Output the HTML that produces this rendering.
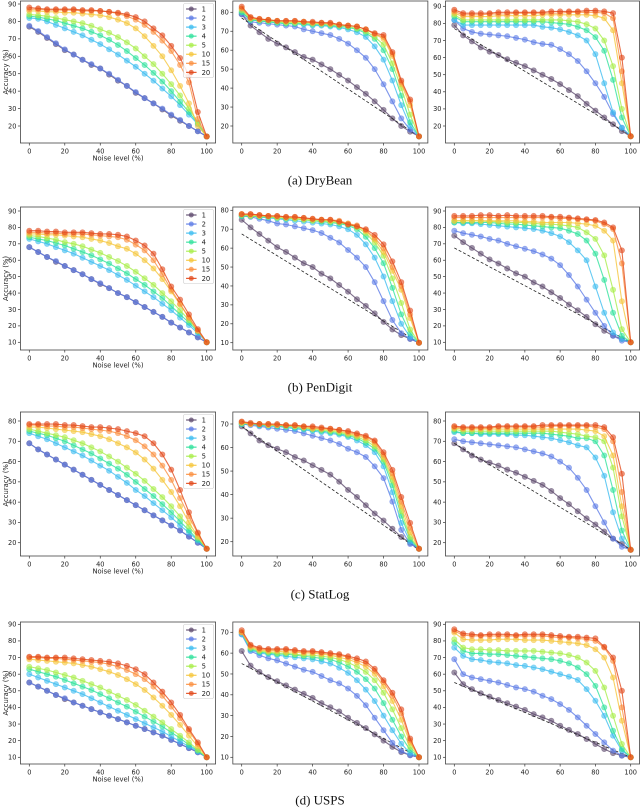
<!DOCTYPE html>
<html><head><meta charset="utf-8"><style>
html,body{margin:0;padding:0;background:#fff;}
svg{display:block;font-family:"DejaVu Sans","Liberation Sans",sans-serif;}
.cap{font-family:"Liberation Serif",serif;font-size:13px;fill:#111;}
</style></head><body>
<svg id="fig" width="640" height="808" viewBox="0 0 640 808" xmlns="http://www.w3.org/2000/svg"></svg>
<script>
const noiseLevels = [0,5,10,15,20,25,30,35,40,45,50,55,60,65,70,75,80,85,90,95,100];
const seriesNames = ['1','2','3','4','5','10','15','20'];
const seriesColors = ['#5d4a6d','#5c7be6','#3dbdf0','#30e29c','#a8ee4a','#f5c63b','#fb8f3f','#e24a1c'];

const drybeanA = [
[77,74,70.5,67,63.5,61,58,55,53,49.5,46,43,39,36,33,29.5,26,23,20,17,14],
[77.5,74.5,71,67.5,64,61,58,55.5,53,50,46.5,43,39.5,36,33,30,26.5,23.5,20,17,14],
[82,81.5,80,78,76,74,72,69.5,67,64,61,57.5,54,50,46,41.5,37,32,26.5,21,14],
[83,82.5,81.5,80.5,79,77.5,76,74,72,69.5,66.5,63,59,55,50.5,45.5,40,34,28,21.5,14],
[84,83.5,83,82,81,80,79,77.5,75.5,73.5,71,68,64.5,60,55.5,50,44,37.5,30,22,14],
[86,86,85.5,85.5,85,85,84.5,84,83.5,82.5,81,79,76,71.5,66,60,52,43,33,20,14],
[87,87,86.5,86.5,86.5,86.5,86,86,86,85.5,84.5,83,81,78,74,69,63,55,45,24,14],
[88,87.5,87,87,87,87,86.5,86.5,86,85.5,85,84,82.5,80,76,72,66,59,49,28,14]];
const drybeanB = [
[79,73,69.5,66,63.5,61.5,59,56.5,55,52.5,50,47,44,40.5,37,33,28.5,24,20,17,14.5],
[79,75,74.5,74,73.5,73,72.5,71,70,69,68,66,63.5,60,56,50,42,33,24,18,14.5],
[80,76,75.5,75,74.5,74,74,73.5,73,73,72.5,72,71,69.5,67,62,55,44,31,20,14.5],
[80,76,75.5,75,74.5,74,74,74,73.5,73.5,73,72.5,72,71,69,66,60,50,36,22,14.5],
[81,76.5,76,75.5,75,74.5,74.5,74.5,74,74,73.5,73,72.5,71.5,70,67,63,53,40,26,14.5],
[82,77,76,76,75.5,75,75,75,74.5,74,74,73.5,73,72.5,71,68.5,66,57,42,31,14.5],
[82,77,76.5,76,75.5,75.5,75.5,75,74.5,74.5,74,73.5,73,72.5,71,68.5,67,58,43,33,14.5],
[83,77.5,76.5,76,75.5,75.5,75.5,75,75,74.5,74.5,73.5,73,72.5,71,69,68,59,44,34,14.5]];
const drybeanC = [
[79,73,69.5,66,63.5,61.5,59,57,55,52.5,50,47.5,44.5,41,37.5,33,29,25,21,17,14],
[82,77,75,74,73.5,73,72.5,71.5,70.5,69,68,67.5,65,62,58,52,45,37,27,19,14],
[82,79,79,79,79,79,79,79,79,79,78,77.5,76.5,75,73,70,62,45,28,19,14],
[84,81,81,81,81,81,81,81,81,81,81,80.5,80,79.5,78,76,72,64,47,25,14],
[85,82,82,82,82,82,82,82,82,82,82,82,82,81.5,81,79.5,77,70,55,30,14],
[86,84,84,84,84,84.5,84.5,84.5,84.5,84.5,85,85,85,85,85,85,84.5,83,76,45,14],
[87,85,85,85,85.5,85.5,85.5,86,86,86,86,86,86,86.5,86.5,86.5,86.5,86,83,52,14],
[88,86,86,86,86,86.5,86.5,86.5,86.5,86.5,86.5,87,87,87,87,87.5,87.5,87,86,60,14]];

const pendigitA = [
[68,65,62,59,56.5,54,51.5,48.5,45.5,43,40,37.5,34.5,31.5,28.5,25.5,22,19,16,13,10],
[68,65,62,59.5,56.5,54,51.5,48.5,46,43,40,37.5,34.5,31.5,28.5,25.5,22,19,16,13,10],
[73,71.5,70,68,66,64,61.5,59,56.5,54,51,48,44.5,41,37.5,33.5,29.5,25,20.5,15.5,10],
[74,73,72,70.5,69,67,65,63,60.5,58,55,52,48.5,45,41,37,32,27,22,16.5,10],
[75,74.5,73.5,72.5,71,70,68.5,66.5,64.5,62,59.5,56.5,53,49,45,40,35,29.5,23.5,17,10],
[76,76,75.5,75.5,75,74.5,74,73,72,70.5,68.5,67,64,60,55,48.5,41,33,25,17,10],
[77,77,76.5,76.5,76,76,76,75.5,75,74.5,74,72.5,69.5,66,60,51.5,42,33.5,25,17,10],
[78,78,77.5,77.5,77,77,77,76.5,76,76,75.5,74.5,72,69,64,54.5,44,36,27,18,10]];
const pendigitB = [
[75,71,67.5,64,60.5,58,55,52,50,46.5,44,40.5,37,33,29.5,25.5,21,17,14,12,10],
[77,76.5,75.5,74.5,73,72.5,71.5,70.5,69.5,68,65.5,63,59,55,50,42,32,22,15,12,10],
[77,77,76.5,76,75.5,75,74.5,74,73.5,73,72.5,71.5,70,67,62,55,45,32,20,13,10],
[77,77,76.5,76.5,76,75.5,75.5,75,74.5,74,73.5,73,72,70,66,60,52,39,25,15,10],
[77.5,77,77,76.5,76,76,75.5,75,74.5,74.5,74,73.5,72.5,71,68,63,56,44,31,17,10],
[78,77.5,77,77,76.5,76,76,75.5,75,75,74.5,74,73,71.5,69,64.5,58,48,38,23,10],
[78,78,77.5,77,77,76.5,76.5,76,75.5,75,75,74.5,73,72,69.5,65.5,60,50,40,25,10],
[78,78,77.5,77,77,76.5,76.5,76,75.5,75,75,74,72.5,71.5,70,67,62,53,42,27,10]];
const pendigitC = [
[75,71,67.5,64,60.5,58,55,52,50,46.5,44,40.5,37,33,29.5,25.5,21,17,14,12,10],
[78,76.5,75.5,74.5,73,72,70,68.5,67,65.5,63.5,61,57,51,44,36,28,20,14,11,10],
[83,82.5,82.5,82,81.5,81,80.5,80,79.5,79,78,76.5,74.5,71,66,60,44,28,16,12,10],
[83,83,83,83,83,82.5,82,82,81.5,81,80.5,80,79.5,78,76,72,64,48,28,14,10],
[84,84,84,84,83.5,83.5,83,83,83,82.5,82,82,81.5,81,80,77,73,63,42,18,10],
[84,84,84,84,84,84,84,84,83.5,83.5,83,83,83,83,82.5,82,81,78,72,35,10],
[86,86,86,86,86,86,86,86,86,86,86,86,85.5,85.5,85,84.5,84,82,79,58,10],
[87,87,87,87.5,87.5,87,87.5,87,87,87,87,86.5,86.5,86,85.5,85,84.5,83,80,66,10]];

const statlogA = [
[69,66,63.5,61,58.5,56,53.5,51,48.5,46,43.5,41,38.5,36,33.5,31,28.5,26,23,20,17],
[69,66,63.5,61,58.5,56,53.5,51,48.5,46,43.5,41,38.5,36,33.5,31,28.5,26,23,20,17],
[74,72.5,71,69,67,65,63,60.5,58,55.5,52.5,49.5,46,43,39.5,36,32.5,28.5,25,21,17],
[75,74,73,71.5,70,68,66,64,61.5,59,56.5,53.5,50,46.5,43,39,35,30.5,26,21.5,17],
[76,75,74,73,72,70.5,69,67,65,62.5,60,57,54,50.5,46.5,42.5,38,33,28,22.5,17],
[77,77,76.5,76,75.5,75,74.5,73.5,72.5,71,69,67,64.5,61,56.5,51,45,38,30,23,17],
[78,78,77.5,77.5,77,77,76.5,76,75.5,75,74,72.5,70.5,67.5,63.5,58,51,42,33,24.5,17],
[78.5,78.5,78.5,78.5,78,78,77.5,77,77,76.5,76,75,74,72.5,69,63.5,56,46,35,25,17]];
const statlogB = [
[69,66,63,61,59.5,58,56,54.5,52.5,50.5,48.5,45.5,42,39,35.5,32,29,25.5,22,19.5,17],
[70,69.5,69,68.5,68,67.5,67,66,65,64,63,61.5,59.5,58,56,52,47,37,25,19,17],
[70,70,69.5,69,69,68.5,68,67.5,67,66.5,66,65.5,64.5,63,61,58,52,41,28,20,17],
[70,70,69.5,69.5,69,69,68.5,68,67.5,67,66.5,66,65,64,62,59.5,54,44,31,21,17],
[70.5,70,70,69.5,69.5,69,69,68.5,68,67.5,67,66.5,65.5,64.5,63,60.5,55,46,33,22,17],
[70.5,70,70,69.5,69.5,69.5,69,68.5,68,68,67.5,67,66,65,64,61.5,56,47.5,35,24,17],
[71,70,70,70,69.5,69.5,69.5,69,68.5,68,68,67.5,66.5,65.5,64.5,62.5,57,49,37,26,17],
[71,70.5,70,70,70,69.5,69.5,69,69,68.5,68,67.5,67,66,65,63,58,50.5,39,28,17]];
const statlogC = [
[69,66,63,61,59.5,58,56,54.5,52.5,50.5,48.5,45.5,42,39,35.5,32,29,25.5,22,19.5,16.5],
[71,70,69.5,69,68.5,68,67.5,67,66,65,64,62.5,60,57,52,46,38,30,22,18,16.5],
[74.5,74,74,73.5,73.5,73.5,73.5,73,73,72.5,72,71.5,70.5,69.5,68,67,62,53,35,22,16.5],
[75,74,74,74,74,74,74,74,74,74,74,73.5,73,72.5,71.5,71.5,70,63,46,26,16.5],
[76,75,75,75,75,75,75,75,75,75,75,75,74.5,74,73.5,72.5,72,70,57,33,16.5],
[76.5,76,76,76,76,76,76,76,76,76,76,76,76,76,76,75.5,75,72.5,63,38,16.5],
[77,76.5,76.5,76.5,76.5,77,77,77,77,77,77,77.5,77.5,77.5,77.5,77.5,77,76,70,45,16.5],
[77.5,77,77,77,77,77.5,77.5,77.5,77.5,77.5,78,78,78,78,78,78,78,77,72,54,16.5]];

const uspsA = [
[55,52.5,50,47.5,45,43,41,39,37,35,33,31,29,27,25,23,20.5,18,15.5,13,10],
[55,52.5,50,47.5,45.5,43,41,39,37,35,33,31,29,27,25,23,20.5,18,15.5,13,10],
[60,58,56,54,52,50,48,45.5,43,40.5,38,35.5,33,30.5,28,25.5,22.5,19.5,16.5,13.5,10],
[63,61.5,60,58.5,56.5,54.5,52.5,50.5,48,45.5,43,40.5,37.5,34.5,31.5,28.5,25,21.5,17.5,14,10],
[64.5,63.5,62.5,61,59.5,58,56,54,52,49.5,47,44.5,41.5,38,34.5,31,27,23,19,14.5,10],
[69,68.5,68,67.5,67,66.5,65.5,64.5,63,61.5,59.5,57,54,50.5,46,41,35.5,29.5,23,16.5,10],
[70,70,69.5,69.5,69,68.5,68,67.5,67,66,64.5,62.5,60,57,52.5,47,40.5,33.5,26,18,10],
[70.5,70.5,70,70,70,69.5,69,68.5,68,67.5,66.5,65,63,60,55,49.5,43,35.5,27,19,10]];
const uspsB = [
[61,54,51,48.5,46.5,44.5,42.5,40.5,38.5,36,34,32,29,26.5,24,21,18,15,12.5,11,10],
[69,61,59,57.5,56.5,55,53.5,52,51,49,47,45.5,43,39.5,35,29,23,17,13,11,10],
[69,61.5,60,59.5,59,58.5,58,57.5,57,56,55,53,50.5,47,42.5,37,30,23,16.5,12,10],
[70,62,60.5,60,59.5,59.5,59,58.5,58,57.5,57,55.5,53.5,51,47.5,43,36,28,20,13.5,10],
[70,62.5,61,60.5,60,60,59.5,59,59,58.5,58,57,55.5,53.5,51,47,41,33,24,15,10],
[70,63,61.5,61,61,60.5,60.5,60,60,59.5,59,58,57,55.5,53.5,50,44,37,28,17,10],
[70,63.5,62,61.5,61.5,61.5,61,60.5,60.5,60,59.5,59,58,56.5,55,51.5,46,39.5,31,18,10],
[71,64,62.5,62,62,62,61.5,61,61,60.5,60,59.5,58.5,57.5,56,52.5,47,41,33,19,10]];
const uspsC = [
[61,54,51,48.5,46.5,44.5,42.5,40.5,38.5,36,34,32,29,26.5,24,21,18,15,12.5,11,10],
[69,60,58,57,56,55,53.5,52,51,49.5,47,45,42,38.5,34,29,24,19,14,11,10],
[76,71,69,68.5,67.5,67,66.5,65.5,65,64,63,61.5,60,58.5,56.5,51,44,35,23,14,10],
[79,74,72.5,72.5,72,72,71.5,71,70.5,70,69.5,69,68,66.5,64,60,53,40,26,15,10],
[81,76,75,75,74.5,74.5,74,74,74,74,73.5,73,72.5,71.5,70,67,62,52,35,18,10],
[85,81,80.5,80.5,80.5,81,81,81,80.5,80.5,80.5,80,79.5,79,78.5,77.5,75,70,58,32,10],
[86,83.5,83,83,83,83,83,83,83,83,83,82.5,82,82,81.5,81,80,76,68,40,10],
[87,84.5,84,83.5,84,84,84,83.5,84,84,84,83.5,83,82.5,82.5,82,81.5,76.5,70,50,10]];

// dashed reference line endpoints [value at 0, value at 100]
const refDryBean = [77,14.5];
const refPenDigit = [67.5,10];
const refStatLog = [69,16.5];
const refUSPS = [55,10];

const ticksA1 = [20,30,40,50,60,70,80,90], ticksA2 = [20,30,40,50,60,70,80];
const ticksB1 = [10,20,30,40,50,60,70,80,90], ticksB2 = [10,20,30,40,50,60,70,80];
const ticksC1 = [20,30,40,50,60,70,80], ticksC2 = [20,30,40,50,60,70];
const ticksD1 = [10,20,30,40,50,60,70,80,90], ticksD2 = [10,20,30,40,50,60,70];
const xTicks = [0,20,40,60,80,100];
const captions = ['(a)  DryBean','(b)  PenDigit','(c)  StatLog','(d)  USPS'];

const NS = 'http://www.w3.org/2000/svg';
const svg = document.getElementById('fig');
function mk(tag, attrs, parent){
  const e = document.createElementNS(NS, tag);
  for (const k in attrs) e.setAttribute(k, attrs[k]);
  (parent||svg).appendChild(e);
  return e;
}

const colX = [[29.3,206.7],[241.7,419],[454.3,630.7]];
const rowFrame = [[1,143],[207,350],[412,556],[622,764]];
const capY = [180,387,594,800];

function drawPanel(name, col, row, cal, ticks, data, ref, legend, labels){
  const g = mk('g', {});
  
  
  const [xa0, xa1] = colX[col];
  const xs = v => xa0 + (xa1 - xa0) * v / 100;
  const ys = v => cal[1] + (v - cal[0]) * (cal[3] - cal[1]) / (cal[2] - cal[0]);
  const fl = xs(-5), fr = xs(105);
  const [ft, fb] = rowFrame[row];
  ticks.forEach(t => {
    const y = ys(t);
    const tk = mk('line', {x1: fl-2.5, x2: fl, y1: y, y2: y, stroke: '#333', 'stroke-width': 0.7}, g);
    
    
    const tl = mk('text', {x: fl-4, y: y+2.3, 'font-size': 6.6, 'text-anchor': 'end', fill: '#222'}, g);
    
    
    tl.textContent = t;
  });
  xTicks.forEach(t => {
    const x = xs(t);
    const tk = mk('line', {x1: x, x2: x, y1: fb, y2: fb+2.5, stroke: '#333', 'stroke-width': 0.7}, g);
    
    
    const tl = mk('text', {x: x, y: fb+10.5, 'font-size': 6.6, 'text-anchor': 'middle', fill: '#222'}, g);
    
    
    tl.textContent = t;
  });
  if (labels){
    const xl = mk('text', {x: (fl+fr)/2, y: fb+17.5, 'font-size': 6.8, 'text-anchor': 'middle', fill: '#222'}, g);
    
    
    xl.textContent = 'Noise level (%)';
    const cy = (ft+fb)/2;
    const yl = mk('text', {x: 8, y: cy, 'font-size': 6.8, 'text-anchor': 'middle', fill: '#222', transform: 'rotate(-90 8 ' + cy + ')'}, g);
    
    
    yl.textContent = 'Accuracy (%)';
  }
  function series(i){
    const vals = data[i];
    const pts = vals.map((v, j) => xs(noiseLevels[j]).toFixed(2) + ',' + ys(v).toFixed(2)).join(' ');
    const sg = mk('g', {}, g);
    
    
    const pl = mk('polyline', {points: pts, fill: 'none', stroke: seriesColors[i], 'stroke-width': 1.1, 'stroke-opacity': 0.8}, sg);
    
    
    vals.forEach((v, j) => {
      const c = mk('circle', {cx: xs(noiseLevels[j]), cy: ys(v), r: 2.7, fill: seriesColors[i], 'fill-opacity': 0.6, stroke: seriesColors[i], 'stroke-opacity': 0.5, 'stroke-width': 0.6}, sg);
      
      
    });
  }
  series(0);
  if (ref){
    const dl = mk('line', {x1: xs(0), y1: ys(ref[0]), x2: xs(100), y2: ys(ref[1]), stroke: '#222', 'stroke-width': 0.8, 'stroke-dasharray': '3,2'}, g);
    
    
  }
  for (let i = 1; i < data.length; i++) series(i);
  const fr_ = mk('rect', {x: fl, y: ft, width: fr-fl, height: fb-ft, fill: 'none', stroke: '#444', 'stroke-width': 0.8}, g);
  
  
  if (legend){
    const lg = mk('g', {}, g);
    
    
    const lx = fr - 32, ly = ft + 2.5;
    const box = mk('rect', {x: lx, y: ly, width: 30, height: 74, rx: 1.5, fill: '#fff', 'fill-opacity': 0.85, stroke: '#ccc', 'stroke-width': 0.6}, lg);
    
    
    seriesNames.forEach((n, i) => {
      const ey = ly + 5.5 + i * 9.05;
      const le = mk('g', {}, lg);
      
      
      mk('line', {x1: lx+2.5, x2: lx+13, y1: ey, y2: ey, stroke: seriesColors[i], 'stroke-width': 1.1}, le);
      mk('circle', {cx: lx+7.7, cy: ey, r: 2.5, fill: seriesColors[i], 'fill-opacity': 0.75}, le);
      const t = mk('text', {x: lx+18, y: ey+2.4, 'font-size': 6.8, fill: '#222'}, le);
      t.textContent = n;
    });
  }
}

drawPanel('drybean-panel-1', 0, 0, [90,4,20,126], ticksA1, drybeanA, null, true, true);
drawPanel('drybean-panel-2', 1, 0, [80,12.3,20,126], ticksA2, drybeanB, refDryBean, false, false);
drawPanel('drybean-panel-3', 2, 0, [90,6.3,20,126], ticksA1, drybeanC, refDryBean, false, false);
drawPanel('pendigit-panel-1', 0, 1, [90,211,10,342.3], ticksB1, pendigitA, null, true, true);
drawPanel('pendigit-panel-2', 1, 1, [80,210.3,10,342.7], ticksB2, pendigitB, refPenDigit, false, false);
drawPanel('pendigit-panel-3', 2, 1, [90,211,10,342.3], ticksB1, pendigitC, refPenDigit, false, false);
drawPanel('statlog-panel-1', 0, 2, [80,421,20,542.7], ticksC1, statlogA, null, true, true);
drawPanel('statlog-panel-2', 1, 2, [70,424,20,541.7], ticksC2, statlogB, refStatLog, false, false);
drawPanel('statlog-panel-3', 2, 2, [80,421,20,542.7], ticksC1, statlogC, refStatLog, false, false);
drawPanel('usps-panel-1', 0, 3, [90,624.3,10,757.3], ticksD1, uspsA, null, true, true);
drawPanel('usps-panel-2', 1, 3, [70,632.3,10,757.3], ticksD2, uspsB, refUSPS, false, false);
drawPanel('usps-panel-3', 2, 3, [90,624.3,10,757.3], ticksD1, uspsC, refUSPS, false, false);

captions.forEach((c, i) => {
  const t = mk('text', {x: 320, y: capY[i] + 4.5, 'text-anchor': 'middle', class: 'cap'});
  
  
  t.textContent = c;
});
</script>
</body></html>
